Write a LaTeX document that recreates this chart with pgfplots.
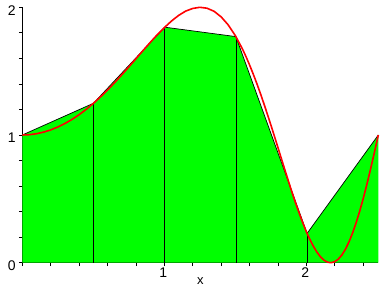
\documentclass[border=0pt]{standalone}
\usepackage{pgfplots}
\pgfplotsset{compat=1.18}
\usepackage{fontspec}
\setmainfont{Liberation Sans}
\definecolor{mgreen}{RGB}{0,255,0}
\definecolor{mred}{RGB}{255,0,0}
\begin{document}
\fontsize{14bp}{16bp}\selectfont
\begin{tikzpicture}
\path[use as bounding box] (-22.3bp,-25.3bp) rectangle (365.7bp,262.7bp);
\begin{axis}[
  at={(0,0)}, anchor=origin,
  scale only axis, width=356bp, height=255.4bp,
  xmin=0, xmax=2.50663, ymin=0, ymax=2,
  axis lines=left,
  axis line style={-, black, line width=0.8bp},
  every tick/.style={black, line width=0.8bp},
  tick align=outside,
  major tick length=3.5bp, minor tick length=3.5bp,
  xtick={1,2}, ytick={0,1,2},
  minor xtick={0,0.2,0.4,0.6,0.8,1.2,1.4,1.6,1.8,2.2,2.4},
  minor ytick={0.2,0.4,0.6,0.8,1.2,1.4,1.6,1.8},
  /pgf/number format/assume math mode=true,
  ticklabel style={font=\fontsize{14bp}{16bp}\selectfont},
  xticklabel style={inner sep=1bp, xshift=-1bp},
  yticklabel style={inner sep=1bp, xshift=-2bp, yshift=-3bp},
  xlabel={x},
  label style={font=\fontsize{13bp}{15bp}\selectfont},
  xlabel style={inner sep=0pt, yshift=0.5bp},
  clip=false,
]
\addplot[fill=mgreen, draw=none] coordinates {
 (0,0) (0,1) (0.50133,1.2487) (1.00265,1.8443) (1.50398,1.7705) (2.00530,0.2295) (2.50663,1) (2.50663,0)} -- cycle;
\addplot[black, line width=0.7bp] coordinates {
 (0,1) (0.50133,1.2487) (1.00265,1.8443) (1.50398,1.7705) (2.00530,0.2295) (2.50663,1)};
\addplot[ycomb, black, line width=0.7bp, mark=none] coordinates {
 (0.50133,1.2487) (1.00265,1.8443) (1.50398,1.7705) (2.00530,0.2295)};
\addplot[mred, line width=1.6bp, line join=round] coordinates {
 (0,1.000) (0.05,1.0025) (0.1,1.010) (0.15,1.0225) (0.2,1.040) (0.25,1.0625)
 (0.3,1.090) (0.35,1.122) (0.4,1.159) (0.45,1.201) (0.5,1.247) (0.55,1.298)
 (0.6,1.352) (0.65,1.410) (0.7,1.471) (0.75,1.533) (0.8,1.597) (0.85,1.661)
 (0.9,1.724) (0.95,1.785) (1.0,1.841) (1.05,1.892) (1.1,1.936) (1.15,1.970)
 (1.2,1.991) (1.25,2.000) (1.3,1.993) (1.35,1.969) (1.4,1.925) (1.45,1.862)
 (1.5,1.778) (1.55,1.674) (1.575,1.614) (1.6,1.549) (1.625,1.480) (1.65,1.407)
 (1.675,1.330) (1.7,1.249) (1.725,1.165) (1.75,1.079) (1.775,0.991) (1.8,0.902)
 (1.825,0.812) (1.85,0.723) (1.875,0.635) (1.9,0.548) (1.925,0.465) (1.95,0.386)
 (1.975,0.312) (2.0,0.243) (2.025,0.181) (2.05,0.128) (2.075,0.082) (2.1,0.045)
 (2.125,0.019) (2.15,0.004) (2.175,0.000) (2.2,0.008) (2.225,0.028) (2.25,0.060)
 (2.275,0.105) (2.3,0.162) (2.325,0.231) (2.35,0.311) (2.375,0.401) (2.4,0.500)
 (2.425,0.608) (2.45,0.723) (2.475,0.843) (2.5,0.967) (2.50663,1.000)};
\end{axis}
\end{tikzpicture}
\end{document}
